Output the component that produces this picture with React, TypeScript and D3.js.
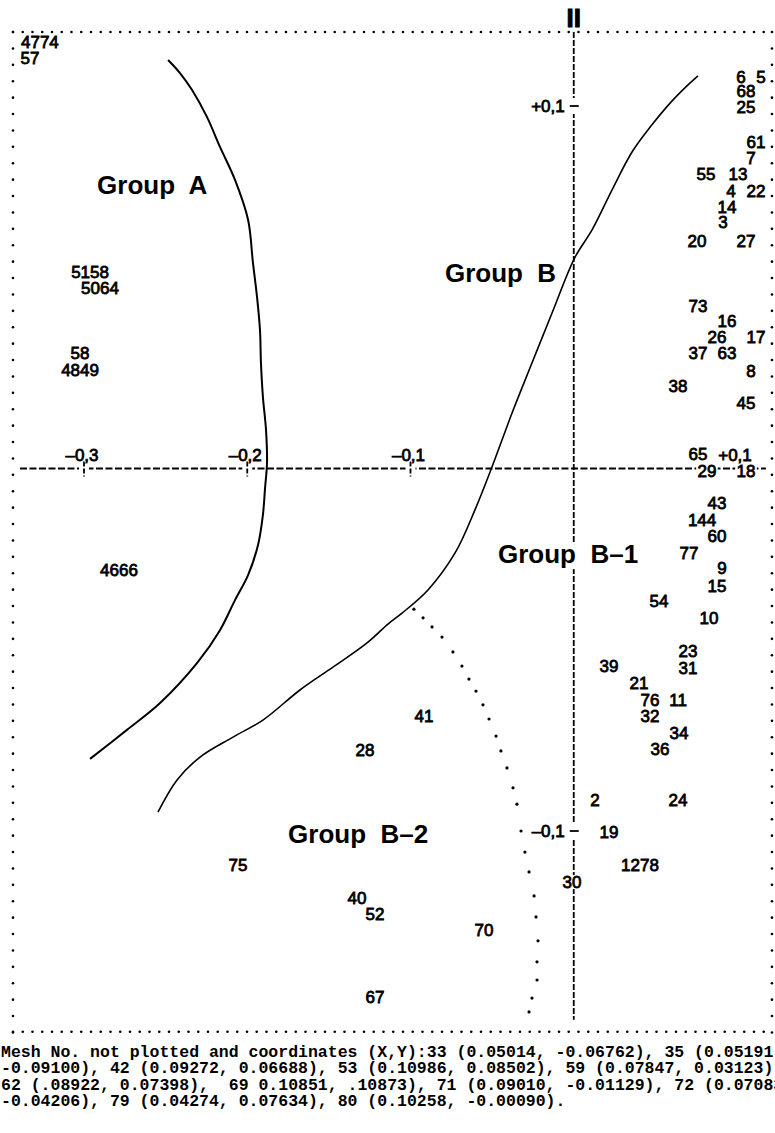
import React from 'react';
import * as d3 from 'd3';

const W = 775;
const H = 1133;

// mesh numbers printed at their (X, Y) coordinates
const MESH_LABELS: [string, number, number][] = [
  ['4774', -0.3270, 0.1177], ['57', -0.3331, 0.1132],
  ['6', 0.1024, 0.1080], ['5', 0.1147, 0.1080], ['68', 0.1055, 0.1041],
  ['25', 0.1055, 0.0997], ['61', 0.1116, 0.0901], ['7', 0.1086, 0.0857],
  ['55', 0.0810, 0.0812], ['13', 0.1006, 0.0812], ['4', 0.0963, 0.0766],
  ['22', 0.1116, 0.0766], ['14', 0.0939, 0.0721], ['3', 0.0914, 0.0680],
  ['20', 0.0755, 0.0628], ['27', 0.1055, 0.0628],
  ['5158', -0.2963, 0.0542], ['5064', -0.2902, 0.0498],
  ['73', 0.0761, 0.0448], ['16', 0.0939, 0.0407], ['26', 0.0877, 0.0363],
  ['17', 0.1116, 0.0363], ['37', 0.0761, 0.0319], ['63', 0.0939, 0.0319],
  ['8', 0.1086, 0.0269], ['38', 0.0639, 0.0228], ['45', 0.1055, 0.0181],
  ['58', -0.3024, 0.0319], ['4849', -0.3024, 0.0272],
  ['65', 0.0761, 0.0040], ['29', 0.0816, -0.0007], ['18', 0.1055, -0.0007],
  ['43', 0.0877, -0.0095], ['144', 0.0786, -0.0142], ['60', 0.0877, -0.0186],
  ['77', 0.0706, -0.0233], ['9', 0.0908, -0.0274], ['15', 0.0877, -0.0324],
  ['4666', -0.2786, -0.0280], ['54', 0.0522, -0.0366], ['10', 0.0828, -0.0412],
  ['23', 0.0700, -0.0503], ['31', 0.0700, -0.0550], ['39', 0.0216, -0.0545],
  ['21', 0.0400, -0.0592], ['76', 0.0467, -0.0639], ['11', 0.0639, -0.0639],
  ['32', 0.0467, -0.0683], ['34', 0.0645, -0.0730], ['36', 0.0528, -0.0774],
  ['41', -0.0917, -0.0683], ['28', -0.1279, -0.0777],
  ['2', 0.0130, -0.0914], ['24', 0.0639, -0.0914], ['19', 0.0216, -0.1003],
  ['1278', 0.0406, -0.1094], ['30', -0.0011, -0.1141], ['75', -0.2057, -0.1094],
  ['40', -0.1328, -0.1185], ['52', -0.1217, -0.1229], ['70', -0.0550, -0.1273],
  ['67', -0.1217, -0.1458],
];

// hand drawn group boundaries
const GROUP_A_LINE: [number, number][] = [
  [-0.2485, 0.1127], [-0.2412, 0.1091], [-0.2338, 0.1044], [-0.2247, 0.0970],
  [-0.2167, 0.0887], [-0.2075, 0.0796], [-0.1995, 0.0686], [-0.1965, 0.0567],
  [-0.1940, 0.0473], [-0.1922, 0.0382], [-0.1916, 0.0291], [-0.1904, 0.0197],
  [-0.1885, 0.0106], [-0.1879, 0.0015], [-0.1891, -0.0054], [-0.1904, -0.0128],
  [-0.1934, -0.0211], [-0.1995, -0.0294], [-0.2075, -0.0363], [-0.2167, -0.0446],
  [-0.2308, -0.0537], [-0.2534, -0.0647], [-0.2737, -0.0721], [-0.2963, -0.0801],
];

const GROUP_B_LINE: [number, number][] = [
  [0.0761, 0.1083], [0.0681, 0.1050], [0.0590, 0.1008], [0.0479, 0.0948],
  [0.0357, 0.0873], [0.0234, 0.0768], [0.0112, 0.0658], [0.0008, 0.0583],
  [-0.0133, 0.0429], [-0.0256, 0.0291], [-0.0378, 0.0153], [-0.0501, 0.0004],
  [-0.0605, -0.0114], [-0.0727, -0.0233], [-0.0893, -0.0335], [-0.1052, -0.0399],
  [-0.1138, -0.0429], [-0.1266, -0.0481], [-0.1475, -0.0548], [-0.1677, -0.0611],
  [-0.1904, -0.0694], [-0.2087, -0.0741], [-0.2289, -0.0796], [-0.2430, -0.0859],
  [-0.2547, -0.0948],
];

const GROUP_B2_DOTS: [number, number][] = [
  [-0.0979, -0.0388], [-0.0923, -0.0412], [-0.0868, -0.0437], [-0.0807, -0.0465],
  [-0.0740, -0.0506], [-0.0685, -0.0545], [-0.0642, -0.0581], [-0.0599, -0.0614],
  [-0.0556, -0.0652], [-0.0519, -0.0691], [-0.0476, -0.0738], [-0.0446, -0.0779],
  [-0.0409, -0.0826], [-0.0372, -0.0881], [-0.0348, -0.0926], [-0.0323, -0.1000],
  [-0.0299, -0.1058], [-0.0274, -0.1113], [-0.0243, -0.1179], [-0.0231, -0.1237],
  [-0.0219, -0.1303], [-0.0225, -0.1361], [-0.0225, -0.1411], [-0.0256, -0.1461],
  [-0.0274, -0.1499],
];

const GROUP_NAMES = ['Group  A', 'Group  B', 'Group  B\u20131', 'Group  B\u20132'];
const GROUP_X = [-0.2920, -0.0789, -0.0464, -0.1750];
const GROUP_Y = [0.0757, 0.0514, -0.0261, -0.1033];

const X_TICKS = [-0.3, -0.2, -0.1, 0.1];
const X_TICK_LABELS = ['\u20130,3', '\u20130,2', '\u20130,1', '+0,1'];
const Y_TICKS = [0.1, -0.1];
const Y_TICK_LABELS = ['+0,1', '\u20130,1'];

const FRAME_X = [-0.3435, 0.1214];
const FRAME_Y = [-0.1554, 0.1204];

const NOTE_LINES = [
  'Mesh No. not plotted and coordinates (X,Y):33 (0.05014, -0.06762), 35 (0.05191',
  '-0.09100), 42 (0.09272, 0.06688), 53 (0.10986, 0.08502), 59 (0.07847, 0.03123)',
  '62 (.08922, 0.07398),  69 0.10851, .10873), 71 (0.09010, -0.01129), 72 (0.07083',
  '-0.04206), 79 (0.04274, 0.07634), 80 (0.10258, -0.00090).',
];

const NUM_FONT = "'Liberation Sans', Arial, sans-serif";

const App = () => {
  const x = d3.scaleLinear().domain([-0.3, 0.1]).range([84, 737]);
  const y = d3.scaleLinear().domain([-0.1, 0.1]).range([831, 106]);
  const x0 = x(0);
  const y0 = y(0);

  const line = d3.line<[number, number]>()
    .x((d) => x(d[0]))
    .y((d) => y(d[1]))
    .curve(d3.curveCatmullRom.alpha(0.5));

  const left = x(FRAME_X[0]);
  const right = x(FRAME_X[1]);
  const top = y(FRAME_Y[1]);
  const bottom = y(FRAME_Y[0]);
  const colDots = d3.range(top, bottom + 1, 16.4);
  const rowDots = d3.range(left, right + 1, 9.75);

  const charW = 9.8;
  // labels sitting on an axis get a white box so the dashes stop at the digits
  const knock = MESH_LABELS.filter(([t, lx, ly]) =>
    Math.abs(y(ly) - y0) < 8 || Math.abs(x(lx) - x0) < (t.length * charW) / 2);

  return (
    <svg width={W} height={H} style={{ position: 'absolute', left: 0, top: 0, background: '#fff' }}>
      <rect width={W} height={H} fill="#fff" />

      {/* dotted frame */}
      <g fill="#000">
        {rowDots.map((d, i) => <circle key={'t' + i} cx={d} cy={top} r={1.3} />)}
        {rowDots.map((d, i) => <circle key={'b' + i} cx={d} cy={bottom} r={1.3} />)}
        {colDots.map((d, i) => <circle key={'l' + i} cx={left} cy={d} r={1.3} />)}
        {colDots.map((d, i) => <circle key={'r' + i} cx={right} cy={d} r={1.3} />)}
      </g>

      {/* axes */}
      <line x1={left + 7} x2={right - 6} y1={y0} y2={y0} stroke="#000" strokeWidth={1.8} strokeDasharray="7 2.5" />
      <line x1={x0} x2={x0} y1={top} y2={bottom - 12} stroke="#000" strokeWidth={1.8} strokeDasharray="6 2" />

      <g fill="#fff">
        {knock.map(([t, lx, ly]) => (
          <rect key={'k' + t} x={x(lx) - (t.length * charW) / 2 - 1} y={y(ly) - 7}
            width={t.length * charW + 2} height={14} />
        ))}
        <rect x={x(GROUP_X[2]) - 2} y={y(GROUP_Y[2]) - 19} width={150} height={25} />
        {X_TICKS.filter((t) => t < 0).map((t) => (
          <rect key={'xt' + t} x={x(t) - 5} y={y0 - 3} width={10} height={6} />
        ))}
        {Y_TICKS.map((t) => (
          <rect key={'yt' + t} x={x0 - 3} y={y(t) - 8} width={6} height={16} />
        ))}
      </g>

      {/* tick marks */}
      <g stroke="#000" strokeWidth={1.8}>
        {X_TICKS.filter((t) => t < 0).map((t) => (
          <line key={'xm' + t} x1={x(t)} x2={x(t)} y1={y0 - 7} y2={y0 + 8} strokeDasharray="5 2" />
        ))}
        {Y_TICKS.map((t) => (
          <line key={'ym' + t} x1={x0 - 4} x2={x0 + 5} y1={y(t)} y2={y(t)} />
        ))}
      </g>

      <g fontFamily={NUM_FONT} fontSize={17} fill="#000" stroke="#000" strokeWidth={0.8}>
        {X_TICKS.map((t, i) => (
          <text key={'xl' + t} x={x(t) - 2} y={y0 - 8} textAnchor="middle">{X_TICK_LABELS[i]}</text>
        ))}
        {Y_TICKS.map((t, i) => (
          <text key={'yl' + t} x={x0 - 9} y={y(t) + 6} textAnchor="end">{Y_TICK_LABELS[i]}</text>
        ))}
      </g>

      {/* group boundaries */}
      <path d={line(GROUP_A_LINE) || ''} fill="none" stroke="#000" strokeWidth={2} />
      <path d={line(GROUP_B_LINE) || ''} fill="none" stroke="#000" strokeWidth={1.6} />
      <g fill="#000">
        {GROUP_B2_DOTS.map((d, i) => <circle key={'d' + i} cx={x(d[0])} cy={y(d[1])} r={1.6} />)}
      </g>

      {/* mesh numbers */}
      <g fontFamily={NUM_FONT} fontSize={17} fill="#000" stroke="#000" strokeWidth={0.8} textAnchor="middle">
        {MESH_LABELS.map(([t, lx, ly]) => (
          <text key={t} x={x(lx)} y={y(ly)} dy="0.36em">{t}</text>
        ))}
      </g>

      <g fontFamily={NUM_FONT} fontSize={26} fontWeight="bold" fill="#000">
        {GROUP_NAMES.map((g, i) => (
          <text key={g} x={x(GROUP_X[i])} y={y(GROUP_Y[i])} xmlSpace="preserve">{g}</text>
        ))}
        <text x={x0} y={top - 5} textAnchor="middle" stroke="#000" strokeWidth={1}>II</text>
      </g>

      <g fontFamily="'Liberation Mono', monospace" fontSize={16.5} fontWeight="bold" fill="#000">
        {NOTE_LINES.map((l, i) => (
          <text key={i} x={1} y={bottom + 25 + i * 16.4} xmlSpace="preserve">{l}</text>
        ))}
      </g>
    </svg>
  );
};

export default App;
